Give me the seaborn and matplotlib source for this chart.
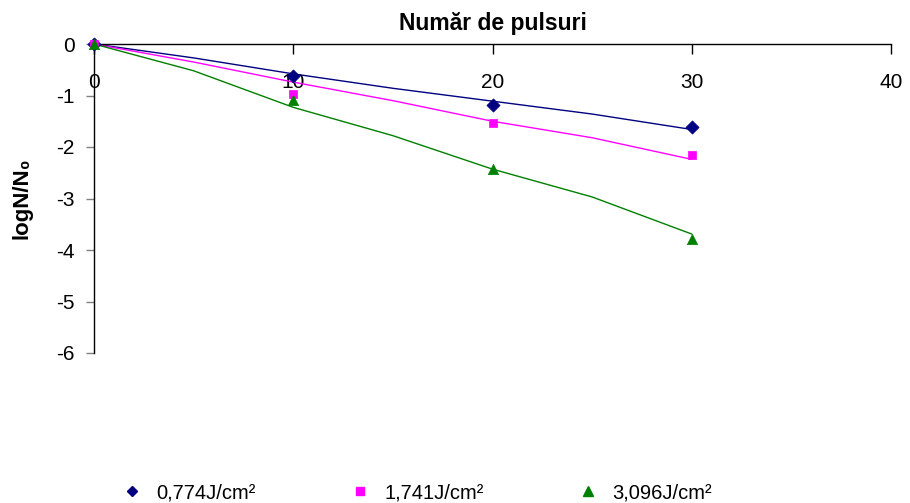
import matplotlib
matplotlib.use("Agg")
import matplotlib.pyplot as plt
import seaborn as sns
import pandas as pd
from matplotlib.lines import Line2D

# ---- data ----
pulses = [0, 10, 20, 30]
series_names = ["0,774J/cm²", "1,741J/cm²", "3,096J/cm²"]
obs_low = [0.0, -0.63, -1.18, -1.61]
obs_mid = [0.0, -0.97, -1.53, -2.16]
obs_high = [0.0, -1.08, -2.43, -3.78]

fit_x = [0, 5, 10, 15, 20, 25, 30]
fit_low = [0.0, -0.27, -0.58, -0.86, -1.11, -1.36, -1.66]
fit_mid = [0.0, -0.35, -0.74, -1.10, -1.50, -1.82, -2.24]
fit_high = [0.0, -0.52, -1.23, -1.78, -2.43, -2.97, -3.69]

x_ticks = [0, 10, 20, 30, 40]
y_ticks = [0, -1, -2, -3, -4, -5, -6]

colors = ["#000080", "#FF00FF", "#008000"]
markers = ["D", "s", "^"]
sizes = [45, 40, 55]

sns.set_style("white")
plt.rcParams["font.family"] = ["Liberation Sans", "DejaVu Sans"]
plt.rcParams["axes.unicode_minus"] = False
plt.rcParams["text.color"] = "black"
plt.rcParams["axes.labelcolor"] = "black"

obs_df = pd.DataFrame({
    "x": pulses * 3,
    "y": obs_low + obs_mid + obs_high,
    "s": sum([[n] * len(pulses) for n in series_names], []),
})
fit_df = pd.DataFrame({
    "x": fit_x * 3,
    "y": fit_low + fit_mid + fit_high,
    "s": sum([[n] * len(fit_x) for n in series_names], []),
})

fig = plt.figure(figsize=(9.10, 5.03), dpi=100)
ax = fig.add_axes([94 / 910, 1 - 353 / 503, 797 / 910, 309 / 503])

for name, c, m, sz in zip(series_names, colors, markers, sizes):
    f = fit_df[fit_df.s == name]
    sns.lineplot(data=f, x="x", y="y", color=c, lw=1.0, ax=ax, legend=False,
                 sort=False, zorder=2)
    o = obs_df[obs_df.s == name]
    sns.scatterplot(data=o, x="x", y="y", color=c, marker=m, s=sz,
                    edgecolor=c, linewidth=0.5, ax=ax, legend=False, zorder=3,
                    clip_on=False)

ax.set_xlim(0, 40)
ax.set_ylim(-6, 0)
ax.set_xticks(x_ticks)
ax.set_yticks(y_ticks)
ax.set_xticklabels([str(v) for v in x_ticks])
ax.set_yticklabels([str(v) for v in y_ticks])

for sp in ["top", "right"]:
    ax.spines[sp].set_visible(False)
ax.spines["bottom"].set_position(("data", 0))
ax.spines["bottom"].set_color("black")
ax.spines["left"].set_color("black")
ax.spines["bottom"].set_linewidth(1.0)
ax.spines["left"].set_linewidth(1.0)

ax.tick_params(axis="x", direction="out", length=7, width=1, color="black",
               labelcolor="black", pad=14, labelsize=15, bottom=True)
ax.tick_params(axis="y", direction="out", length=6, width=1, color="#808080",
               labelcolor="black", pad=8, labelsize=15, left=True)

ax.set_xlabel("")
ax.set_ylabel("logN/N₀", fontsize=16, fontweight="bold", color="black")
ax.yaxis.set_label_coords(-0.077, 0.5)
ax.set_title("Număr de pulsuri", fontsize=16.5, fontweight="bold", pad=10,
             color="black")

handles = [Line2D([], [], linestyle="none", marker=m, color=c, markersize=ms,
                  markeredgecolor=c)
           for c, m, ms in zip(colors, markers, [5.5, 6, 6.5])]
fig.legend(handles, series_names, loc="center", ncol=3, frameon=False,
           bbox_to_anchor=(417 / 910, 1 - 493 / 503), fontsize=14.5,
           handlelength=1.0, handletextpad=0.7, columnspacing=4.7,
           labelcolor="black")

fig.savefig("out.png", dpi=100)
